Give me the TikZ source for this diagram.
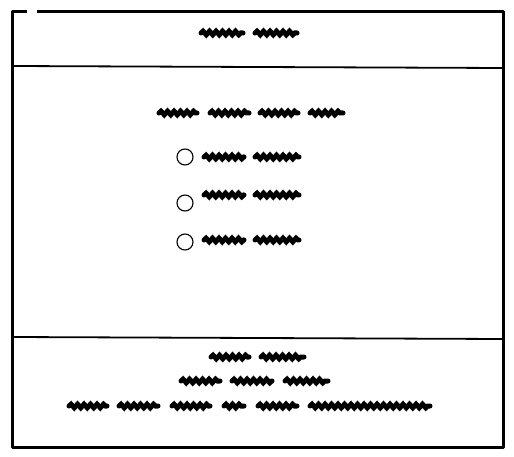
\documentclass[tikz,border=0pt]{standalone}
\usepackage{tikz}
\usetikzlibrary{positioning,decorations.pathmorphing}

\begin{document}
\begin{tikzpicture}[x=1pt, y=-1pt,
  frame/.style={draw=black, line width=3pt, line join=round},
  divider/.style={draw=black, line width=1.8pt},
  scribble/.style={draw=black, line width=5pt, line cap=round, decorate,
    decoration={snake, amplitude=1.8pt, segment length=6.5pt}},
  radio/.style={circle, draw=black, line width=1.1pt, minimum size=16pt, inner sep=0pt}
]
\useasboundingbox (0,0) rectangle (514,457);

% Outer frame (small gap at top left)
\coordinate (gapL) at (27,12);
\coordinate (gapR) at (37,12);
\draw[frame] (gapL) -- (12,12) -- (12,447) -- (503,447) -- (503,12) -- (gapR);

% Dividers
\draw[divider] (12,66) -- (503,68);
\draw[divider] (12,337) -- (503,339);

% Header
\foreach \a/\b in {199/245, 253/299}
  \draw[scribble] ({\a+2},33) -- ({\b-2},33);

% Question
\foreach \a/\b in {157/199, 208/251, 258/300, 308/345}
  \draw[scribble] ({\a+2},113) -- ({\b-2},113);

% Options
\node[radio] (opt1) at (185,157) {};
\node[radio] (opt2) at (185,203) {};
\node[radio] (opt3) at (185,242) {};
\foreach \y in {157, 195, 240}
  \foreach \a/\b in {202/246, 253/301}
    \draw[scribble] ({\a+2},\y) -- ({\b-2},\y);

% Footer
\foreach \a/\b in {209/251, 259/306}
  \draw[scribble] ({\a+2},357) -- ({\b-2},357);
\foreach \a/\b in {179/222, 230/274, 283/330}
  \draw[scribble] ({\a+2},381) -- ({\b-2},381);
\foreach \a/\b in {67/109, 117/160, 170/212, 222/246, 256/299, 308/432}
  \draw[scribble] ({\a+2},406) -- ({\b-2},406);

\end{tikzpicture}
\end{document}
